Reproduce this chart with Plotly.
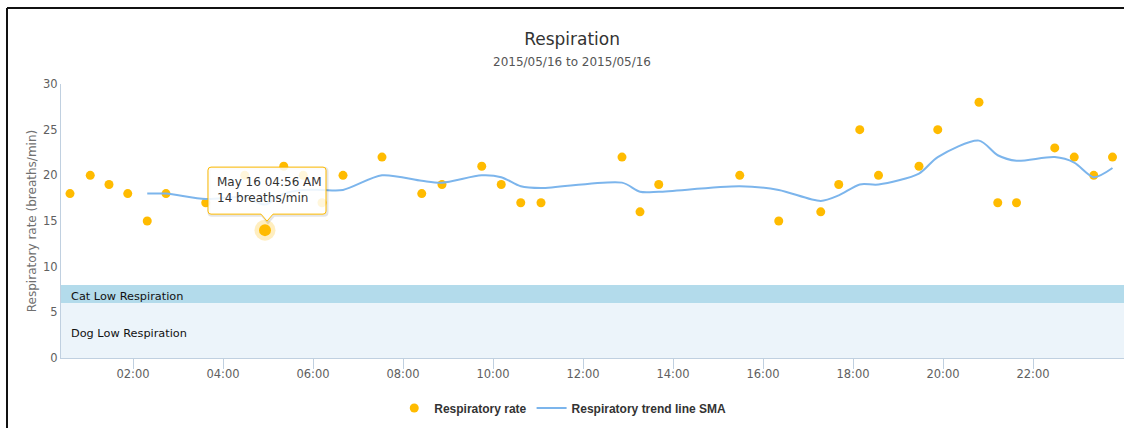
import datetime as dt
import plotly.graph_objects as go

# ---------------- data ----------------
times = ["2015-05-16 00:36", "2015-05-16 01:03", "2015-05-16 01:28", "2015-05-16 01:53",
         "2015-05-16 02:19", "2015-05-16 02:44", "2015-05-16 03:37", "2015-05-16 04:29",
         "2015-05-16 04:56", "2015-05-16 05:21", "2015-05-16 05:47", "2015-05-16 06:12",
         "2015-05-16 06:40", "2015-05-16 07:32", "2015-05-16 08:25", "2015-05-16 08:52",
         "2015-05-16 09:45", "2015-05-16 10:11", "2015-05-16 10:37", "2015-05-16 11:04",
         "2015-05-16 12:52", "2015-05-16 13:16", "2015-05-16 13:41", "2015-05-16 15:29",
         "2015-05-16 16:21", "2015-05-16 17:17", "2015-05-16 17:41", "2015-05-16 18:09",
         "2015-05-16 18:34", "2015-05-16 19:28", "2015-05-16 19:53", "2015-05-16 20:48",
         "2015-05-16 21:13", "2015-05-16 21:38", "2015-05-16 22:29", "2015-05-16 22:55",
         "2015-05-16 23:21", "2015-05-16 23:46"]
rates = [18, 20, 19, 18, 15, 18, 17, 20, 14, 21, 20, 17, 20, 22, 18, 19, 21, 19, 17, 17,
         22, 16, 19, 20, 15, 16, 19, 25, 20, 21, 25, 28, 17, 17, 23, 22, 20, 22]

sma_times = times[4:]
sma_values = [18, 18, 17.4, 17.6, 16.8, 18, 18.4, 18.4, 18.4, 20, 19.4, 19.2, 20, 19.8,
              18.8, 18.6, 19.2, 18.2, 18.2, 18.8, 18.4, 17.2, 17.8, 19, 19, 20.2, 22,
              23.8, 22.2, 21.6, 22, 21.4, 19.8, 20.8]

band_names = ["Cat Low Respiration", "Dog Low Respiration"]
band_lows = [6, 0]
band_highs = [8, 6]
band_colors = ["#B3DBEB", "#ECF4FA"]

tick_vals = ["2015-05-16 02:00", "2015-05-16 04:00", "2015-05-16 06:00", "2015-05-16 08:00",
             "2015-05-16 10:00", "2015-05-16 12:00", "2015-05-16 14:00", "2015-05-16 16:00",
             "2015-05-16 18:00", "2015-05-16 20:00", "2015-05-16 22:00"]
tick_text = ["02:00", "04:00", "06:00", "08:00", "10:00", "12:00", "14:00", "16:00",
             "18:00", "20:00", "22:00"]
x_range = ["2015-05-16 00:24", "2015-05-17 00:01:20"]
y_range = [0, 30]

title_text = "Respiration"
subtitle_text = "2015/05/16 to 2015/05/16"
tooltip_index = 8

# ---------------- figure ----------------
DOT = "#FFBB00"
LINE = "#7CB5EC"
AXIS = "#C0D0E0"
FONT = "DejaVu Sans"

fig = go.Figure()

fig.add_trace(go.Scatter(
    x=times, y=rates, mode="markers", name="Respiratory rate",
    marker=dict(color=DOT, size=9, line=dict(width=0)),
))
fig.add_trace(go.Scatter(
    x=sma_times, y=sma_values, mode="lines", name="Respiratory trend line SMA",
    line=dict(color=LINE, width=2, shape="spline", smoothing=0.8),
))
# hovered point with halo
fig.add_trace(go.Scatter(
    x=[times[tooltip_index]], y=[rates[tooltip_index]], mode="markers", showlegend=False,
    marker=dict(color="rgba(255,187,0,0.25)", size=21, line=dict(width=0)),
))
fig.add_trace(go.Scatter(
    x=[times[tooltip_index]], y=[rates[tooltip_index]], mode="markers", showlegend=False,
    marker=dict(color=DOT, size=12, line=dict(width=0)),
))

shapes = []
annotations = []
for name, lo, hi, col in zip(band_names, band_lows, band_highs, band_colors):
    shapes.append(dict(type="rect", xref="paper", yref="y", x0=0, x1=1, y0=lo, y1=hi,
                       fillcolor=col, line=dict(width=0), layer="below"))
    annotations.append(dict(text=name, xref="paper", yref="y", x=0.0075, y=(lo + hi) / 2,
                            xanchor="left", yanchor="middle", yshift=-2.5, showarrow=False,
                            font=dict(family=FONT, size=11.3, color="#111")))

# outer frame of the screenshot
shapes.append(dict(type="line", xref="paper", yref="paper", x0=-0.0508, x1=-0.0508,
                   y0=-0.27, y1=1.2774, line=dict(color="#111", width=2), layer="above"))
shapes.append(dict(type="line", xref="paper", yref="paper", x0=-0.0508, x1=1.02,
                   y0=1.2774, y1=1.2774, line=dict(color="#111", width=2), layer="above"))

# tooltip callout (pixel-sized, anchored at the hovered point)
callout = ("M -54 16 L -4 16 L 2 9 L 8 16 L 58 16 Q 61 16 61 19 L 61 60 Q 61 63 58 63 "
           "L -54 63 Q -57 63 -57 60 L -57 19 Q -57 16 -54 16 Z")
shadow = ("M -53 15 L -3 15 L 3 8 L 9 15 L 59 15 Q 62 15 62 18 L 62 59 Q 62 62 59 62 "
          "L -53 62 Q -56 62 -56 59 L -56 18 Q -56 15 -53 15 Z")
shapes.append(dict(type="path", xref="x", yref="y", xsizemode="pixel", ysizemode="pixel",
                   xanchor=times[tooltip_index], yanchor=rates[tooltip_index], path=shadow,
                   line=dict(color="rgba(0,0,0,0.10)", width=3), fillcolor="rgba(0,0,0,0)",
                   layer="above"))
shapes.append(dict(type="path", xref="x", yref="y", xsizemode="pixel", ysizemode="pixel",
                   xanchor=times[tooltip_index], yanchor=rates[tooltip_index], path=callout,
                   line=dict(color=DOT, width=1), fillcolor="rgba(255,255,255,0.86)",
                   layer="above"))

tip_time = dt.datetime.strptime(times[tooltip_index], "%Y-%m-%d %H:%M")
tip_text = (tip_time.strftime("%b ") + str(tip_time.day) + tip_time.strftime(" %I:%M %p")
            + "<br>" + f"{rates[tooltip_index]} breaths/min")
annotations.append(dict(text=tip_text, xref="x", yref="y", x=times[tooltip_index],
                        y=rates[tooltip_index], xanchor="left", yanchor="middle",
                        xshift=-50, yshift=40, align="left", showarrow=False,
                        font=dict(family=FONT, size=12, color="#333")))

annotations.append(dict(text=subtitle_text, xref="paper", yref="paper", x=0.4807, y=1.080,
                        xanchor="center", yanchor="middle", showarrow=False,
                        font=dict(family=FONT, size=12, color="#555")))

fig.update_layout(
    width=1124, height=428,
    margin=dict(l=61, r=0, t=84, b=70),
    paper_bgcolor="white", plot_bgcolor="white",
    title=dict(text=title_text, xref="container", yref="container", x=0.509, y=0.909,
               xanchor="center", yanchor="middle",
               font=dict(family=FONT, size=17, color="#333")),
    showlegend=True,
    legend=dict(orientation="h", xref="paper", yref="paper", x=0.472, y=-0.1825,
                xanchor="center", yanchor="middle",
                font=dict(family="Liberation Sans", size=12, color="#333", weight="bold"),
                bgcolor="rgba(0,0,0,0)"),
    hovermode=False,
    shapes=shapes,
    annotations=annotations,
)
fig.update_xaxes(type="date", range=x_range, tickvals=tick_vals, ticktext=tick_text,
                 ticks="outside", ticklen=10, tickcolor=AXIS, tickwidth=1,
                 ticklabelstandoff=-5,
                 showline=True, linecolor=AXIS, linewidth=1, showgrid=False, zeroline=False,
                 tickfont=dict(family=FONT, size=11.5, color="#606060"), automargin=False)
fig.update_yaxes(range=y_range, dtick=5, tick0=0, ticks="", showline=True, linecolor=AXIS,
                 linewidth=1, showgrid=False, zeroline=False,
                 tickfont=dict(family=FONT, size=11.5, color="#606060"),
                 title=dict(text="Respiratory rate (breaths/min)", standoff=3,
                            font=dict(family=FONT, size=12, color="#707070")),
                 automargin=False)

# remove the default page margin so the figure sits at the window's top-left corner
fig.write_html("out.html",
               config={"displayModeBar": False},
               post_script="document.body.style.margin='0';"
                           "document.body.style.overflow='hidden';")
